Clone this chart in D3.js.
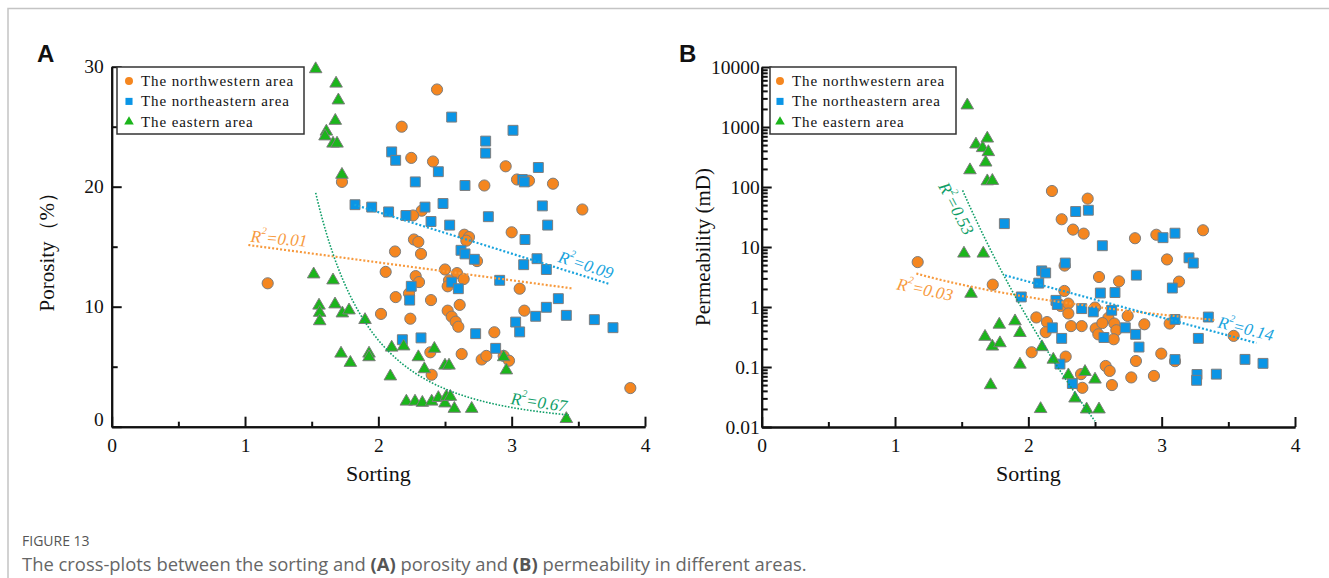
<!DOCTYPE html>
<html>
<head>
<meta charset="utf-8">
<script src="https://cdn.jsdelivr.net/npm/d3@7/dist/d3.min.js"></script>
<style>
body { margin: 0; background: #fff; }
svg text { fill: #111; }
</style>
</head>
<body>
<script>
var w = 1329;
var h = 578;

// ---- panel A : sorting vs porosity (%) ----
var nwPoro = [
  [1.17,11.95],[1.727,20.4],[2.44,28.1],[2.175,25.0],[2.247,22.4],[2.41,22.1],[2.955,21.7],
  [3.04,20.6],[3.13,20.5],[3.31,20.25],[2.795,20.1],[3.53,18.1],[2.325,18.0],[2.26,17.6],
  [3.0,16.2],[2.645,16.0],[2.68,15.8],[2.66,15.5],[2.267,15.6],[2.30,15.4],[2.74,13.8],
  [2.125,14.6],[2.32,14.4],[2.055,12.9],[2.28,12.55],[2.305,12.05],[2.23,11.1],[2.50,13.1],
  [2.59,12.8],[2.64,12.3],[2.53,12.2],[2.52,11.7],[3.06,11.5],[2.13,10.8],[2.395,10.55],
  [2.61,10.15],[2.02,9.4],[2.24,9.0],[2.52,9.67],[2.55,9.17],[2.58,8.75],[2.60,8.33],
  [3.095,9.67],[2.87,7.87],[2.39,6.2],[2.625,6.06],[2.775,5.6],[2.81,5.9],[2.94,5.9],
  [2.98,5.5],[2.40,4.33],[3.89,3.22]
];
var nePoro = [
  [2.55,25.8],[3.01,24.7],[2.805,23.8],[2.805,22.8],[2.10,22.9],[2.13,22.2],[3.20,21.6],
  [2.45,21.25],[3.08,20.6],[3.095,20.4],[2.277,20.4],[2.65,20.1],[3.23,18.4],[2.485,18.6],
  [2.35,18.3],[1.825,18.5],[1.95,18.3],[2.077,17.9],[2.207,17.6],[2.395,17.1],[2.535,16.8],
  [2.825,17.5],[3.27,16.8],[3.10,15.6],[2.62,14.7],[2.65,14.4],[2.72,13.95],[3.09,13.5],
  [3.19,14.0],[3.26,13.1],[2.247,11.7],[2.235,10.55],[2.55,12.05],[2.60,11.5],[2.91,12.2],
  [3.03,8.72],[3.06,7.9],[3.18,9.2],[3.26,9.95],[3.35,10.67],[3.41,9.28],[3.62,8.92],
  [3.76,8.25],[2.73,7.75],[2.18,7.25],[2.32,7.4],[2.88,6.53]
];
var ePoro = [
  [1.53,29.8],[1.683,28.6],[1.70,27.2],[1.677,25.5],[1.61,24.6],[1.60,24.2],[1.66,23.6],
  [1.69,23.6],[1.727,21.0],[1.515,12.7],[1.66,12.2],[1.555,10.1],[1.56,9.5],[1.56,8.8],
  [1.675,10.2],[1.73,9.45],[1.78,9.7],[1.90,8.9],[1.72,6.1],[1.79,5.33],[1.93,6.1],[1.93,5.8],
  [2.10,6.6],[2.19,6.7],[2.30,5.8],[2.42,6.5],[2.50,5.1],[2.53,5.1],[2.345,4.8],[2.09,4.2],
  [2.94,5.8],[2.96,4.7],[2.21,2.1],[2.275,2.1],[2.33,2.0],[2.40,2.1],[2.45,2.4],[2.50,1.95],
  [2.51,2.5],[2.54,2.5],[2.57,1.5],[2.70,1.5],[3.41,0.65]
];

// ---- panel B : sorting vs permeability (mD) ----
var nwPerm = [
  [1.17,5.6],[2.177,85.7],[2.445,64],[2.25,29],[2.335,19.5],[2.415,16.7],[2.80,14],[2.96,16],
  [3.31,19],[3.04,6.2],[2.272,4.9],[1.733,2.36],[2.53,3.16],[2.68,2.68],[3.13,2.65],[2.27,1.85],
  [2.243,1.04],[2.30,1.14],[2.30,0.78],[2.50,0.98],[2.60,0.66],[2.745,0.71],[2.87,0.515],
  [3.06,0.53],[3.54,0.33],[2.06,0.67],[2.14,0.56],[2.13,0.38],[2.32,0.48],[2.40,0.48],
  [2.505,0.44],[2.525,0.35],[2.555,0.54],[2.645,0.53],[2.66,0.41],[2.64,0.29],[2.025,0.176],
  [2.28,0.149],[2.997,0.167],[3.10,0.125],[2.807,0.126],[2.58,0.104],[2.61,0.086],
  [2.772,0.067],[2.942,0.071],[2.395,0.076],[2.405,0.045],[2.627,0.05]
];
var nePerm = [
  [2.355,39],[2.45,41],[1.82,24.5],[3.01,14.3],[3.10,17],[2.555,10.5],[3.205,6.6],[3.237,5.4],
  [2.277,5.4],[2.10,4.0],[2.13,3.7],[2.078,2.5],[2.81,3.4],[3.08,2.07],[2.54,1.71],[2.65,1.74],
  [1.947,1.47],[2.207,1.29],[2.217,1.1],[2.40,0.94],[2.487,0.83],[2.625,0.88],[3.10,0.62],
  [3.35,0.68],[3.275,0.30],[2.18,0.45],[2.567,0.31],[2.727,0.45],[2.805,0.35],[2.83,0.215],
  [2.25,0.30],[2.237,0.112],[3.10,0.133],[3.625,0.134],[3.76,0.115],[3.265,0.075],
  [3.262,0.06],[3.41,0.076],[2.33,0.053]
];
var ePerm = [
  [1.542,2300],[1.607,513],[1.657,447],[1.692,645],[1.70,383],[1.68,257],[1.562,191],
  [1.692,125],[1.73,127],[1.517,7.8],[1.662,7.8],[1.57,1.67],[1.675,0.32],[1.73,0.22],
  [1.787,0.25],[1.782,0.51],[1.90,0.58],[1.937,0.37],[2.102,0.215],[2.187,0.133],[1.937,0.11],
  [1.717,0.05],[2.092,0.02],[2.30,0.073],[2.425,0.083],[2.50,0.062],[2.35,0.030],
  [2.437,0.0197],[2.53,0.0197]
];

// fitted trends: lin y=a+bx, pow y=a*x^b, exp y=a*e^(bx)
var fitPoro = [
  {area: "nw", kind: "lin", a: 16.666, b: -1.4887, from: 1.025, to: 3.45, r2: "0.01"},
  {area: "ne", kind: "lin", a: 24.79, b: -3.455, from: 1.82, to: 3.73, r2: "0.09"},
  {area: "e", kind: "pow", a: 94.4, b: -3.71, from: 1.53, to: 3.43, r2: "0.67"}
];
var fitPerm = [
  {area: "nw", kind: "pow", a: 4.62, b: -1.66, from: 1.16, to: 3.4, r2: "0.03"},
  {area: "ne", kind: "exp", a: 41.6, b: -1.377, from: 1.825, to: 3.71, r2: "0.14"},
  {area: "e", kind: "pow", a: 114800, b: -17.5, from: 1.507, to: 2.50, r2: "0.53"}
];
// where the R² notes sit (data units) and their tilt
var notePoro = [[1.255, 15.7, 5], [3.557, 13.5, 18], [3.205, 2.06, 8]];
var notePerm = [[1.225, 1.97, 12], [3.632, 0.44, 14], [1.461, 44, 62]];

var xTicks = [0, 1, 2, 3, 4];
var xMinor = [0.5, 1.5, 2.5, 3.5];
var poroTicks = [0, 10, 20, 30];
var poroMinor = [5, 15, 25];
var permTicks = [0.01, 0.1, 1, 10, 100, 1000, 10000];

var legendNames = ["The northwestern area", "The northeastern area", "The eastern area"];
var areas = ["nw", "ne", "e"];

var fill = {nw: "#f5861f", ne: "#0a95e6", e: "#1bb51b"};
var lineCol = {nw: "#f79a3e", ne: "#18a3dd", e: "#0f9e68"};
var shape = {nw: d3.symbolCircle, ne: d3.symbolSquare, e: d3.symbolTriangle};
var size = {nw: 98, ne: 98, e: 68};

var serif = "'Liberation Serif', 'Times New Roman', serif";

var svg = d3.select("body").append("svg")
  .attr("width", w)
  .attr("height", h);

// figure frame (top + left grey rule)
svg.append("path")
   .attr("d", "M8," + h + "V8.5H" + w)
   .attr("fill", "none")
   .attr("stroke", "#c4c4c4")
   .attr("stroke-width", 1.5);

function fitY(f, x)
{
  if (f.kind == "lin") return f.a + f.b * x;
  if (f.kind == "pow") return f.a * Math.pow(x, f.b);
  return f.a * Math.exp(f.b * x);
}

function drawPanel(opt)
{
  var g = svg.append("g").style("font-family", serif);
  var x = opt.x, y = opt.y;
  var y0 = y.range()[0];
  var x0 = x.range()[0];

  // x axis: minor then major, ticks pointing in
  g.append("g").attr("class", "ax")
   .attr("transform", "translate(0," + y0 + ")")
   .call(d3.axisBottom(x).tickValues(xMinor).tickSize(-5).tickSizeOuter(0).tickFormat(""));
  g.append("g").attr("class", "ax")
   .attr("transform", "translate(0," + y0 + ")")
   .call(d3.axisBottom(x).tickValues(xTicks).tickSize(-10).tickSizeOuter(0).tickPadding(11).tickFormat(d3.format("d")));

  g.append("g").attr("class", "ax")
   .attr("transform", "translate(" + x0 + ",0)")
   .call(d3.axisLeft(y).tickValues(opt.yMinor).tickSize(-6).tickSizeOuter(0).tickFormat(""));
  g.append("g").attr("class", "ax ymaj")
   .attr("transform", "translate(" + x0 + ",0)")
   .call(d3.axisLeft(y).tickValues(opt.yTicks).tickSize(-10).tickSizeOuter(0).tickPadding(opt.yPad).tickFormat(opt.yFmt));

  g.selectAll(".ax path, .ax line").attr("stroke", "#111").attr("stroke-width", 2);
  g.selectAll(".ax text")
   .style("font-family", serif)
   .attr("font-size", 19.5)
   .style("fill", "#111");
  if (opt.nudgeZero)
    g.select(".ymaj").selectAll("text").filter(function(d) { return d === 0; }).attr("dy", "-0.05em");

  // axis titles
  g.append("text")
   .attr("x", (x.range()[0] + x.range()[1]) / 2)
   .attr("y", 481)
   .attr("text-anchor", "middle")
   .attr("font-size", 22)
   .text("Sorting");
  g.append("text")
   .attr("transform", "translate(" + opt.titleX + "," + ((y.range()[0] + y.range()[1]) / 2) + ") rotate(-90)")
   .attr("text-anchor", "middle")
   .attr("dominant-baseline", "central")
   .attr("font-size", 21)
   .text(opt.title);

  // panel letter
  g.append("text")
   .attr("x", opt.letterX)
   .attr("y", 62)
   .style("font-family", "'Liberation Sans', Arial, sans-serif")
   .attr("font-weight", "bold")
   .attr("font-size", 24)
   .text(opt.letter);

  // points
  opt.series.forEach(function(data, i) {
    var k = areas[i];
    g.append("g").selectAll("path")
     .data(data).enter()
     .append("path")
     .attr("d", d3.symbol().type(shape[k]).size(size[k]))
     .attr("transform", function(d) { return "translate(" + x(d[0]) + "," + y(d[1]) + ")"; })
     .attr("fill", fill[k])
     .attr("stroke", "#7d7d7d")
     .attr("stroke-width", 1);
  });

  // fitted trends
  var line = d3.line().x(function(d) { return x(d[0]); }).y(function(d) { return y(d[1]); });
  opt.fits.forEach(function(f, i) {
    var pts = d3.range(f.from, f.to, 0.01).concat([f.to]).map(function(v) { return [v, fitY(f, v)]; });
    g.append("path")
     .attr("d", line(pts))
     .attr("fill", "none")
     .attr("stroke", lineCol[f.area])
     .attr("stroke-width", f.area == "e" ? 1.6 : 2.2)
     .attr("stroke-dasharray", f.area == "e" ? "1.6 1.6" : "2 2");

    var n = opt.notes[i];
    var t = g.append("text")
     .attr("transform", "translate(" + x(n[0]) + "," + y(n[1]) + ") rotate(" + n[2] + ")")
     .attr("text-anchor", "middle")
     .attr("dominant-baseline", "central")
     .attr("font-style", "italic")
     .attr("font-size", 17)
     .style("fill", lineCol[f.area]);
    t.append("tspan").text("R");
    t.append("tspan").attr("font-size", 10).attr("dy", -7).text("2");
    t.append("tspan").attr("dy", 7).text("=" + f.r2);
  });

  // legend
  var lg = g.append("g").attr("transform", "translate(" + opt.legend[0] + "," + opt.legend[1] + ")");
  lg.append("rect")
    .attr("width", opt.legend[2])
    .attr("height", 67)
    .attr("fill", "#fff")
    .attr("stroke", "#333")
    .attr("stroke-width", 1.5);
  legendNames.forEach(function(name, i) {
    var k = areas[i];
    var cy = 14 + i * 20.4;
    lg.append("path")
      .attr("d", d3.symbol().type(shape[k]).size(k == "e" ? 40 : 50))
      .attr("transform", "translate(" + opt.legend[3] + "," + cy + ")")
      .attr("fill", fill[k]);
    lg.append("text")
      .attr("x", opt.legend[3] + 12)
      .attr("y", cy)
      .attr("dominant-baseline", "central")
      .attr("font-size", 15)
      .attr("letter-spacing", "0.9px")
      .text(name);
  });
}

var xA = d3.scaleLinear().domain([0, 4]).range([111.7, 645]);
var yA = d3.scaleLinear().domain([0, 30]).range([426.7, 66.7]);
var xB = d3.scaleLinear().domain([0, 4]).range([761.7, 1295]);
var yB = d3.scaleLog().domain([0.01, 10000]).range([427, 67]);

// log minor ticks 2..9 in each decade
var permMinor = [];
permTicks.slice(0, -1).forEach(function(d) {
  for (var k = 2; k < 10; k++) permMinor.push(d * k);
});

drawPanel({
  x: xA, y: yA, yTicks: poroTicks, yMinor: poroMinor, yPad: 8, nudgeZero: true,
  yFmt: d3.format("d"), title: "Porosity\uFF08%\uFF09", titleX: 47, letter: "A", letterX: 37,
  series: [nwPoro, nePoro, ePoro], fits: fitPoro, notes: notePoro,
  legend: [117, 67, 187, 12]
});
drawPanel({
  x: xB, y: yB, yTicks: permTicks, yMinor: permMinor, yPad: 2,
  yFmt: function(d) { return String(d); }, title: "Permeability (mD)", titleX: 703, letter: "B", letterX: 679,
  series: [nwPerm, nePerm, ePerm], fits: fitPerm, notes: notePerm,
  legend: [770, 67, 186, 10]
});

// caption
var cap = svg.append("g").style("font-family", "'Open Sans', Lato, sans-serif");
cap.append("text")
   .attr("x", 22).attr("y", 546)
   .attr("font-size", 14)
   .style("fill", "#555")
   .text("FIGURE 13");
var ct = cap.append("text")
   .attr("x", 22).attr("y", 571)
   .attr("font-size", 18.4)
   .style("fill", "#666");
ct.append("tspan").text("The cross-plots between the sorting and ");
ct.append("tspan").attr("font-weight", "bold").style("fill", "#555").text("(A)");
ct.append("tspan").text(" porosity and ");
ct.append("tspan").attr("font-weight", "bold").style("fill", "#555").text("(B)");
ct.append("tspan").text(" permeability in different areas.");
</script>
</body>
</html>
